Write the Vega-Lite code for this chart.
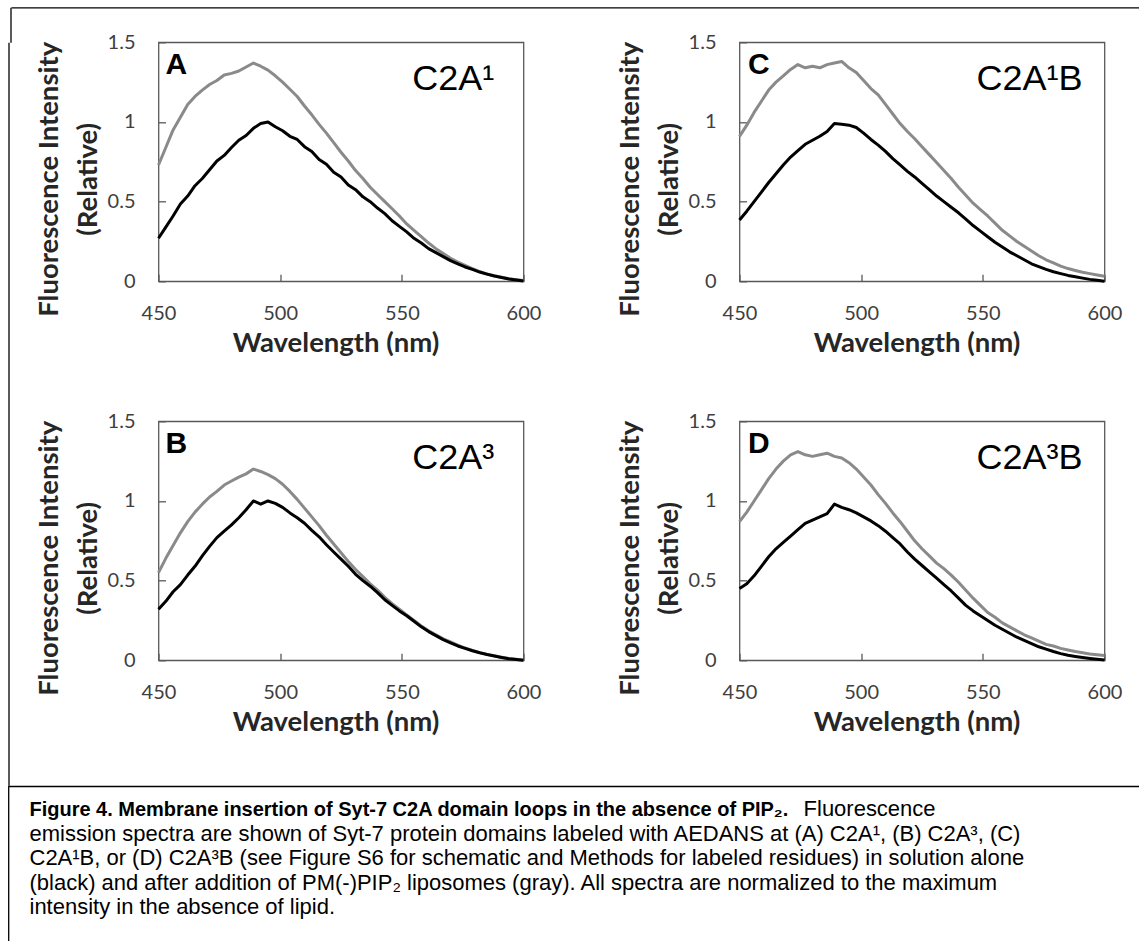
{
  "$schema": "https://vega.github.io/schema/vega-lite/v6.json",
  "background": "white",
  "padding": {"left": 7.5, "top": 6.3, "right": 0, "bottom": 0},
  "autosize": {"type": "pad"},
  "config": {
    "view": {"stroke": null},
    "axis": {"domain": false, "grid": false, "ticks": true, "tickSize": -7, "tickColor": "#595959", "tickWidth": 1.3,
      "labelFont": "Lato", "labelFontSize": 20, "labelColor": "#404040", "labelFlush": false, "labelOverlap": false,
      "titleFont": "Lato", "titleFontSize": 27.5, "titleFontWeight": "bold", "titleColor": "#262626"},
    "axisX": {"labelPadding": 29.5, "titleX": 177, "titleY": 70.5, "titleBaseline": "alphabetic", "titleAlign": "center"},
    "axisY": {"labelPadding": 30.5, "titleX": -109, "titleY": 136.5, "titleBaseline": "middle", "titleAngle": -90, "titleLineHeight": 39, "titleAlign": "center"},
    "text": {"font": "Liberation Sans", "color": "#000000"}
  },
  "datasets": {
    "A": [
      {"w":450,"b":0.27,"g":0.73},{"w":453,"b":0.34,"g":0.84},{"w":456,"b":0.41,"g":0.95},{"w":459,"b":0.485,"g":1.03},{"w":462,"b":0.535,"g":1.11},
      {"w":465,"b":0.60,"g":1.16},{"w":468,"b":0.645,"g":1.20},{"w":471,"b":0.70,"g":1.235},{"w":474,"b":0.755,"g":1.26},{"w":477,"b":0.79,"g":1.295},
      {"w":480,"b":0.84,"g":1.305},{"w":483,"b":0.885,"g":1.32},{"w":486,"b":0.915,"g":1.345},{"w":489,"b":0.96,"g":1.37},{"w":492,"b":0.99,"g":1.35},
      {"w":495,"b":1.0,"g":1.325},{"w":498,"b":0.97,"g":1.29},{"w":501,"b":0.945,"g":1.25},{"w":504,"b":0.91,"g":1.205},{"w":507,"b":0.89,"g":1.16},
      {"w":510,"b":0.845,"g":1.10},{"w":513,"b":0.815,"g":1.045},{"w":516,"b":0.765,"g":0.985},{"w":519,"b":0.735,"g":0.93},{"w":522,"b":0.685,"g":0.87},
      {"w":525,"b":0.655,"g":0.81},{"w":528,"b":0.605,"g":0.755},{"w":531,"b":0.575,"g":0.695},{"w":534,"b":0.53,"g":0.645},{"w":537,"b":0.50,"g":0.59},
      {"w":540,"b":0.46,"g":0.545},{"w":543,"b":0.425,"g":0.50},{"w":546,"b":0.38,"g":0.455},{"w":549,"b":0.345,"g":0.41},{"w":552,"b":0.31,"g":0.36},
      {"w":555,"b":0.27,"g":0.32},{"w":558,"b":0.24,"g":0.28},{"w":561,"b":0.205,"g":0.24},{"w":564,"b":0.18,"g":0.205},{"w":567,"b":0.155,"g":0.175},
      {"w":570,"b":0.13,"g":0.145},{"w":573,"b":0.11,"g":0.12},{"w":576,"b":0.09,"g":0.10},{"w":579,"b":0.075,"g":0.08},{"w":582,"b":0.058,"g":0.06},
      {"w":585,"b":0.045,"g":0.046},{"w":588,"b":0.033,"g":0.035},{"w":591,"b":0.024,"g":0.025},{"w":594,"b":0.014,"g":0.016},{"w":597,"b":0.008,"g":0.01},
      {"w":600,"b":0.002,"g":0.005}
    ],
    "B": [
      {"w":450,"b":0.32,"g":0.55},{"w":453,"b":0.37,"g":0.64},{"w":456,"b":0.43,"g":0.72},{"w":459,"b":0.475,"g":0.80},{"w":462,"b":0.535,"g":0.87},
      {"w":465,"b":0.59,"g":0.93},{"w":468,"b":0.655,"g":0.98},{"w":471,"b":0.715,"g":1.025},{"w":474,"b":0.77,"g":1.06},{"w":477,"b":0.81,"g":1.10},
      {"w":480,"b":0.85,"g":1.125},{"w":483,"b":0.895,"g":1.15},{"w":486,"b":0.945,"g":1.17},{"w":489,"b":1.0,"g":1.20},{"w":492,"b":0.98,"g":1.185},
      {"w":495,"b":1.0,"g":1.165},{"w":498,"b":0.985,"g":1.14},{"w":501,"b":0.96,"g":1.105},{"w":504,"b":0.925,"g":1.06},{"w":507,"b":0.895,"g":1.01},
      {"w":510,"b":0.86,"g":0.955},{"w":513,"b":0.815,"g":0.90},{"w":516,"b":0.775,"g":0.845},{"w":519,"b":0.725,"g":0.785},{"w":522,"b":0.68,"g":0.73},
      {"w":525,"b":0.635,"g":0.675},{"w":528,"b":0.59,"g":0.62},{"w":531,"b":0.54,"g":0.57},{"w":534,"b":0.50,"g":0.525},{"w":537,"b":0.465,"g":0.48},
      {"w":540,"b":0.425,"g":0.44},{"w":543,"b":0.38,"g":0.395},{"w":546,"b":0.345,"g":0.355},{"w":549,"b":0.31,"g":0.32},{"w":552,"b":0.28,"g":0.285},
      {"w":555,"b":0.245,"g":0.25},{"w":558,"b":0.21,"g":0.215},{"w":561,"b":0.18,"g":0.185},{"w":564,"b":0.155,"g":0.16},{"w":567,"b":0.13,"g":0.135},
      {"w":570,"b":0.11,"g":0.115},{"w":573,"b":0.09,"g":0.095},{"w":576,"b":0.075,"g":0.077},{"w":579,"b":0.06,"g":0.062},{"w":582,"b":0.047,"g":0.048},
      {"w":585,"b":0.036,"g":0.037},{"w":588,"b":0.027,"g":0.028},{"w":591,"b":0.018,"g":0.019},{"w":594,"b":0.01,"g":0.011},{"w":597,"b":0.005,"g":0.006},
      {"w":600,"b":0.0,"g":0.001}
    ],
    "C": [
      {"w":450,"b":0.385,"g":0.91},{"w":453,"b":0.44,"g":0.98},{"w":456,"b":0.50,"g":1.06},{"w":459,"b":0.56,"g":1.13},{"w":462,"b":0.62,"g":1.20},
      {"w":465,"b":0.675,"g":1.25},{"w":468,"b":0.73,"g":1.29},{"w":471,"b":0.78,"g":1.33},{"w":474,"b":0.82,"g":1.36},{"w":477,"b":0.86,"g":1.34},
      {"w":480,"b":0.885,"g":1.35},{"w":483,"b":0.91,"g":1.34},{"w":486,"b":0.94,"g":1.36},{"w":489,"b":0.99,"g":1.37},{"w":492,"b":0.985,"g":1.38},
      {"w":495,"b":0.98,"g":1.34},{"w":498,"b":0.965,"g":1.31},{"w":501,"b":0.93,"g":1.26},{"w":504,"b":0.89,"g":1.21},{"w":507,"b":0.855,"g":1.17},
      {"w":510,"b":0.815,"g":1.11},{"w":513,"b":0.77,"g":1.05},{"w":516,"b":0.73,"g":0.99},{"w":519,"b":0.69,"g":0.94},{"w":522,"b":0.655,"g":0.895},
      {"w":525,"b":0.615,"g":0.845},{"w":528,"b":0.575,"g":0.795},{"w":531,"b":0.535,"g":0.745},{"w":534,"b":0.50,"g":0.695},{"w":537,"b":0.465,"g":0.645},
      {"w":540,"b":0.43,"g":0.59},{"w":543,"b":0.39,"g":0.54},{"w":546,"b":0.35,"g":0.49},{"w":549,"b":0.315,"g":0.45},{"w":552,"b":0.28,"g":0.41},
      {"w":555,"b":0.245,"g":0.365},{"w":558,"b":0.215,"g":0.32},{"w":561,"b":0.185,"g":0.285},{"w":564,"b":0.16,"g":0.25},{"w":567,"b":0.135,"g":0.22},
      {"w":570,"b":0.11,"g":0.19},{"w":573,"b":0.092,"g":0.16},{"w":576,"b":0.075,"g":0.135},{"w":579,"b":0.06,"g":0.115},{"w":582,"b":0.048,"g":0.095},
      {"w":585,"b":0.037,"g":0.08},{"w":588,"b":0.028,"g":0.068},{"w":591,"b":0.02,"g":0.057},{"w":594,"b":0.012,"g":0.048},{"w":597,"b":0.006,"g":0.04},
      {"w":600,"b":0.001,"g":0.032}
    ],
    "D": [
      {"w":450,"b":0.45,"g":0.87},{"w":453,"b":0.48,"g":0.93},{"w":456,"b":0.53,"g":1.00},{"w":459,"b":0.59,"g":1.07},{"w":462,"b":0.65,"g":1.14},
      {"w":465,"b":0.70,"g":1.20},{"w":468,"b":0.74,"g":1.25},{"w":471,"b":0.78,"g":1.29},{"w":474,"b":0.82,"g":1.31},{"w":477,"b":0.86,"g":1.29},
      {"w":480,"b":0.88,"g":1.28},{"w":483,"b":0.90,"g":1.29},{"w":486,"b":0.92,"g":1.30},{"w":489,"b":0.98,"g":1.28},{"w":492,"b":0.96,"g":1.27},
      {"w":495,"b":0.945,"g":1.24},{"w":498,"b":0.925,"g":1.20},{"w":501,"b":0.90,"g":1.15},{"w":504,"b":0.875,"g":1.10},{"w":507,"b":0.845,"g":1.04},
      {"w":510,"b":0.81,"g":0.985},{"w":513,"b":0.77,"g":0.925},{"w":516,"b":0.73,"g":0.87},{"w":519,"b":0.68,"g":0.81},{"w":522,"b":0.635,"g":0.75},
      {"w":525,"b":0.595,"g":0.70},{"w":528,"b":0.555,"g":0.655},{"w":531,"b":0.515,"g":0.61},{"w":534,"b":0.475,"g":0.575},{"w":537,"b":0.435,"g":0.535},
      {"w":540,"b":0.39,"g":0.49},{"w":543,"b":0.345,"g":0.44},{"w":546,"b":0.31,"g":0.39},{"w":549,"b":0.28,"g":0.345},{"w":552,"b":0.25,"g":0.30},
      {"w":555,"b":0.22,"g":0.27},{"w":558,"b":0.195,"g":0.235},{"w":561,"b":0.17,"g":0.21},{"w":564,"b":0.145,"g":0.185},{"w":567,"b":0.125,"g":0.16},
      {"w":570,"b":0.105,"g":0.14},{"w":573,"b":0.085,"g":0.12},{"w":576,"b":0.07,"g":0.10},{"w":579,"b":0.055,"g":0.09},{"w":582,"b":0.042,"g":0.075},
      {"w":585,"b":0.032,"g":0.065},{"w":588,"b":0.024,"g":0.055},{"w":591,"b":0.017,"g":0.048},{"w":594,"b":0.011,"g":0.04},{"w":597,"b":0.006,"g":0.035},
      {"w":600,"b":0.002,"g":0.03}
    ],
    "caption": [
      {"line": 2, "text": "emission spectra are shown of Syt-7 protein domains labeled with AEDANS at (A) C2A¹, (B)  C2A³, (C)"},
      {"line": 3, "text": "C2A¹B, or (D) C2A³B (see Figure S6 for schematic and Methods for labeled residues) in solution alone"},
      {"line": 4, "text": "(black) and after addition of PM(-)PIP₂ liposomes (gray).  All spectra are normalized to the maximum"},
      {"line": 5, "text": "intensity in the absence of lipid."}
    ]
  },
  "columns": 1,
  "align": "none",
  "spacing": 0,
  "concat": [
    {
      "spacing": 0,
      "hconcat": [
        {
          "width": 1, "height": 1,
          "data": {"values": [{}]},
          "mark": {"type": "point", "opacity": 0, "size": 0},
          "encoding": {
            "y": {"datum": 0, "type": "quantitative", "scale": {"domain": [0, 1], "range": [0, 743]},
                  "axis": {"orient": "left", "domain": true, "domainColor": "#000000", "domainWidth": 1.3, "ticks": false, "labels": false, "title": null, "grid": false}}
          }
        },
        {
          "columns": 2,
          "bounds": "flush",
          "spacing": {"row": 140, "column": 216},
          "concat": [
            {
              "width": 365, "height": 239,
              "view": {"stroke": "#595959", "strokeWidth": 1.3},
              "resolve": {"scale": {"x": "independent", "y": "independent"}, "axis": {"x": "independent", "y": "independent"}},
              "layer": [
                {
                  "layer": [
                    {"data": {"name": "A"}, "transform": [{"fold": ["g", "b"], "as": ["s", "v"]}],
                     "mark": {"type": "line", "strokeWidth": 3, "strokeJoin": "round"},
                     "encoding": {
                       "x": {"field": "w", "type": "quantitative", "scale": {"domain": [450, 600], "nice": false, "zero": false}, "axis": {"title": "Wavelength (nm)", "values": [450, 500, 550, 600]}},
                       "y": {"field": "v", "type": "quantitative", "scale": {"domain": [0, 1.5], "nice": false}, "axis": {"title": ["Fluorescence Intensity", "(Relative)"], "values": [0, 0.5, 1, 1.5], "format": ".1~f"}},
                       "color": {"field": "s", "type": "nominal", "scale": {"domain": ["g", "b"], "range": ["#8a8a8a", "#000000"]}, "legend": null}
                     }},
                    {"data": {"values": [{}]}, "mark": {"type": "text", "fontWeight": "bold", "fontSize": 30, "align": "left", "baseline": "alphabetic"},
                     "encoding": {"x": {"datum": 452.9}, "y": {"datum": 1.3}, "text": {"value": "A"}}},
                    {"data": {"values": [{}]}, "mark": {"type": "text", "fontSize": 36, "align": "right", "baseline": "alphabetic"},
                     "encoding": {"x": {"datum": 588}, "y": {"datum": 1.2}, "text": {"value": "C2A¹"}}}
                  ]
                },
                {"data": {"values": [{}]}, "mark": {"type": "point", "opacity": 0, "size": 0},
                 "encoding": {
                   "x": {"datum": 0, "type": "quantitative", "scale": {"domain": [0, 1], "range": [-147.5, 991]},
                     "axis": {"orient": "top", "offset": 35, "domain": true, "domainColor": "#000000", "domainWidth": 1.3, "ticks": false, "labels": false, "title": null, "grid": false}},
                   "y": {"datum": 0, "type": "quantitative", "scale": {"domain": [0, 1], "range": [-35, 0]},
                     "axis": {"orient": "left", "offset": 148, "domain": true, "domainColor": "#000000", "domainWidth": 1.3, "ticks": false, "labels": false, "title": null, "grid": false}}
                 }}
              ]
            },
            {
              "width": 365, "height": 239,
              "view": {"stroke": "#595959", "strokeWidth": 1.3},
              "layer": [
                {"data": {"name": "C"}, "transform": [{"fold": ["g", "b"], "as": ["s", "v"]}],
                 "mark": {"type": "line", "strokeWidth": 3, "strokeJoin": "round"},
                 "encoding": {
                   "x": {"field": "w", "type": "quantitative", "scale": {"domain": [450, 600], "nice": false, "zero": false}, "axis": {"title": "Wavelength (nm)", "values": [450, 500, 550, 600]}},
                   "y": {"field": "v", "type": "quantitative", "scale": {"domain": [0, 1.5], "nice": false}, "axis": {"title": ["Fluorescence Intensity", "(Relative)"], "values": [0, 0.5, 1, 1.5], "format": ".1~f"}},
                   "color": {"field": "s", "type": "nominal", "scale": {"domain": ["g", "b"], "range": ["#8a8a8a", "#000000"]}, "legend": null}
                 }},
                {"data": {"values": [{}]}, "mark": {"type": "text", "fontWeight": "bold", "fontSize": 30, "align": "left", "baseline": "alphabetic"},
                 "encoding": {"x": {"datum": 453.5}, "y": {"datum": 1.3}, "text": {"value": "C"}}},
                {"data": {"values": [{}]}, "mark": {"type": "text", "fontSize": 36, "align": "right", "baseline": "alphabetic"},
                 "encoding": {"x": {"datum": 591}, "y": {"datum": 1.2}, "text": {"value": "C2A¹B"}}}
              ]
            },
            {
              "width": 365, "height": 239,
              "view": {"stroke": "#595959", "strokeWidth": 1.3},
              "layer": [
                {"data": {"name": "B"}, "transform": [{"fold": ["g", "b"], "as": ["s", "v"]}],
                 "mark": {"type": "line", "strokeWidth": 3, "strokeJoin": "round"},
                 "encoding": {
                   "x": {"field": "w", "type": "quantitative", "scale": {"domain": [450, 600], "nice": false, "zero": false}, "axis": {"title": "Wavelength (nm)", "values": [450, 500, 550, 600]}},
                   "y": {"field": "v", "type": "quantitative", "scale": {"domain": [0, 1.5], "nice": false}, "axis": {"title": ["Fluorescence Intensity", "(Relative)"], "values": [0, 0.5, 1, 1.5], "format": ".1~f"}},
                   "color": {"field": "s", "type": "nominal", "scale": {"domain": ["g", "b"], "range": ["#8a8a8a", "#000000"]}, "legend": null}
                 }},
                {"data": {"values": [{}]}, "mark": {"type": "text", "fontWeight": "bold", "fontSize": 30, "align": "left", "baseline": "alphabetic"},
                 "encoding": {"x": {"datum": 452.9}, "y": {"datum": 1.3}, "text": {"value": "B"}}},
                {"data": {"values": [{}]}, "mark": {"type": "text", "fontSize": 36, "align": "right", "baseline": "alphabetic"},
                 "encoding": {"x": {"datum": 588}, "y": {"datum": 1.2}, "text": {"value": "C2A³"}}}
              ]
            },
            {
              "width": 365, "height": 239,
              "view": {"stroke": "#595959", "strokeWidth": 1.3},
              "layer": [
                {"data": {"name": "D"}, "transform": [{"fold": ["g", "b"], "as": ["s", "v"]}],
                 "mark": {"type": "line", "strokeWidth": 3, "strokeJoin": "round"},
                 "encoding": {
                   "x": {"field": "w", "type": "quantitative", "scale": {"domain": [450, 600], "nice": false, "zero": false}, "axis": {"title": "Wavelength (nm)", "values": [450, 500, 550, 600]}},
                   "y": {"field": "v", "type": "quantitative", "scale": {"domain": [0, 1.5], "nice": false}, "axis": {"title": ["Fluorescence Intensity", "(Relative)"], "values": [0, 0.5, 1, 1.5], "format": ".1~f"}},
                   "color": {"field": "s", "type": "nominal", "scale": {"domain": ["g", "b"], "range": ["#8a8a8a", "#000000"]}, "legend": null}
                 }},
                {"data": {"values": [{}]}, "mark": {"type": "text", "fontWeight": "bold", "fontSize": 30, "align": "left", "baseline": "alphabetic"},
                 "encoding": {"x": {"datum": 453.5}, "y": {"datum": 1.3}, "text": {"value": "D"}}},
                {"data": {"values": [{}]}, "mark": {"type": "text", "fontSize": 36, "align": "right", "baseline": "alphabetic"},
                 "encoding": {"x": {"datum": 591}, "y": {"datum": 1.2}, "text": {"value": "C2A³B"}}}
              ]
            }
          ]
        }
      ]
    },
    {
      "width": 1139, "height": 160,
      "view": {"stroke": "#000000", "strokeWidth": 1.3, "fill": null},
      "layer": [
        {"data": {"values": [{}]},
         "mark": {"type": "text", "font": "Liberation Sans, Arial, sans-serif", "fontSize": 20, "fontWeight": "bold", "align": "left", "baseline": "alphabetic", "dx": 21, "dy": 5},
         "encoding": {"x": {"datum": 0, "scale": {"domain": [0, 1]}, "axis": null}, "y": {"datum": 1, "scale": {"domain": [0, 6.4], "reverse": true}, "axis": null}, "text": {"value": "Figure 4. Membrane insertion of Syt-7 C2A domain loops in the absence of PIP₂."}}},
        {"data": {"values": [{}]},
         "mark": {"type": "text", "font": "Liberation Sans, Arial, sans-serif", "fontSize": 22, "align": "left", "baseline": "alphabetic", "dx": 21, "dy": 5},
         "encoding": {"x": {"datum": 0.6796}, "y": {"datum": 1}, "text": {"value": "Fluorescence"}}},
        {"data": {"name": "caption"},
         "mark": {"type": "text", "font": "Liberation Sans, Arial, sans-serif", "fontSize": 22, "align": "left", "baseline": "alphabetic", "dx": 21, "dy": 5},
         "encoding": {"x": {"datum": 0}, "y": {"field": "line", "type": "quantitative"}, "text": {"field": "text"}}}
      ]
    }
  ]
}
